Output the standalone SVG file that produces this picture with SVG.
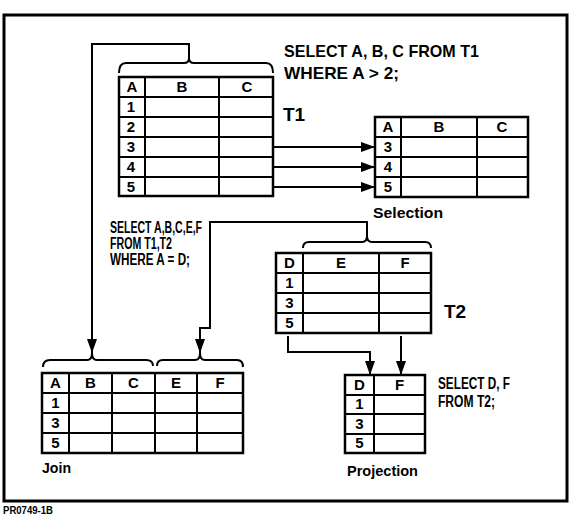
<svg xmlns="http://www.w3.org/2000/svg" width="572" height="524" viewBox="0 0 572 524">
<defs>
<marker id="ah" viewBox="0 0 14 10" refX="14" refY="5" markerWidth="14" markerHeight="10" markerUnits="userSpaceOnUse" orient="auto">
<path d="M0,0 L14,5 L0,10 z" fill="#000"/>
</marker>
</defs>
<style>
text{font-family:"Liberation Sans",Arial,sans-serif;font-weight:bold;fill:#000}
.cell{font-size:15px;text-anchor:middle}
.sql{font-size:16px}
.big{font-size:17px}
.lbl{font-size:15px}
.tb{fill:none;stroke:#000;stroke-width:2.5}
.gl{fill:none;stroke:#000;stroke-width:2}
.br{fill:none;stroke:#000;stroke-width:2}
.cn{fill:none;stroke:#000;stroke-width:2}
.cna{fill:none;stroke:#000;stroke-width:2;marker-end:url(#ah)}
</style>
<rect x="4" y="15" width="563" height="486" fill="none" stroke="#000" stroke-width="3"/>

<g id="connectors">
<path class="cna" d="M189,58 V44 H92 V353"/>
<path class="cna" d="M367,236 V222 H210 V328 H200 V353"/>
<path class="cna" d="M288,336 V352 H370 V375"/>
<path class="cna" d="M401,336 V375"/>
<path class="cna" d="M273,147 H375"/>
<path class="cna" d="M273,167 H375"/>
<path class="cna" d="M273,187 H375"/>
</g>

<g id="t1">
<path class="br" d="M119,73 Q119,63 126,63 L184,63 Q189,63 189,58 Q189,63 194,63 L266,63 Q273,63 273,73"/>
<rect class="tb" x="119" y="77" width="154" height="119"/>
<path class="gl" d="M145,77 V196 M219,77 V196 M119,97 H273 M119,117 H273 M119,137 H273 M119,157 H273 M119,177 H273"/>
<text class="cell" x="132" y="92">A</text>
<text class="cell" x="182" y="92">B</text>
<text class="cell" x="247" y="92">C</text>
<text class="cell" x="131" y="112">1</text>
<text class="cell" x="131" y="132">2</text>
<text class="cell" x="131" y="152">3</text>
<text class="cell" x="131" y="172">4</text>
<text class="cell" x="131" y="192">5</text>
<text x="283" y="121" style="font-size:19px">T1</text>
</g>

<g id="sql1">
<text class="big" x="284" y="57" textLength="195" lengthAdjust="spacingAndGlyphs">SELECT A, B, C FROM T1</text>
<text class="big" x="284" y="79" textLength="115" lengthAdjust="spacingAndGlyphs">WHERE A &gt; 2;</text>
</g>

<g id="selection">
<rect class="tb" x="375" y="117" width="153" height="80"/>
<path class="gl" d="M401,117 V197 M477,117 V197 M375,137 H528 M375,157 H528 M375,177 H528"/>
<text class="cell" x="388" y="132">A</text>
<text class="cell" x="439" y="132">B</text>
<text class="cell" x="502" y="132">C</text>
<text class="cell" x="388" y="152">3</text>
<text class="cell" x="388" y="172">4</text>
<text class="cell" x="388" y="192">5</text>
<text class="lbl" x="373" y="218" textLength="70" lengthAdjust="spacingAndGlyphs">Selection</text>
</g>

<g id="sql2">
<text class="sql" x="110" y="233" textLength="92" lengthAdjust="spacingAndGlyphs">SELECT A,B,C,E,F</text>
<text class="sql" x="110" y="249" textLength="62" lengthAdjust="spacingAndGlyphs">FROM T1,T2</text>
<text class="sql" x="110" y="265" textLength="80" lengthAdjust="spacingAndGlyphs">WHERE A = D;</text>
</g>

<g id="t2">
<path class="br" d="M303,248 Q303,242 309,242 L362,242 Q367,242 367,236 Q367,242 372,242 L425,242 Q431,242 431,248"/>
<rect class="tb" x="276" y="253" width="155" height="80"/>
<path class="gl" d="M303,253 V333 M379,253 V333 M276,273 H431 M276,293 H431 M276,313 H431"/>
<text class="cell" x="289.5" y="268">D</text>
<text class="cell" x="341" y="268">E</text>
<text class="cell" x="405" y="268">F</text>
<text class="cell" x="289.5" y="288">1</text>
<text class="cell" x="289.5" y="308">3</text>
<text class="cell" x="289.5" y="328">5</text>
<text x="444" y="318" style="font-size:19px">T2</text>
</g>

<g id="join">
<path class="br" d="M43,367 Q43,360 50,360 L87,360 Q92,360 92,353 Q92,360 97,360 L146,360 Q153,360 153,366"/>
<path class="br" d="M157,366 Q157,360 163,360 L195,360 Q200,360 200,353 Q200,360 205,360 L237,360 Q243,360 243,367"/>
<rect class="tb" x="42" y="373" width="201" height="80"/>
<path class="gl" d="M69,373 V453 M112,373 V453 M155,373 V453 M197,373 V453 M42,393 H243 M42,413 H243 M42,433 H243"/>
<text class="cell" x="55.5" y="388">A</text>
<text class="cell" x="90.5" y="388">B</text>
<text class="cell" x="133.5" y="388">C</text>
<text class="cell" x="176" y="388">E</text>
<text class="cell" x="220" y="388">F</text>
<text class="cell" x="55.5" y="408">1</text>
<text class="cell" x="55.5" y="428">3</text>
<text class="cell" x="55.5" y="448">5</text>
<text class="lbl" x="42" y="473" textLength="29" lengthAdjust="spacingAndGlyphs">Join</text>
</g>

<g id="projection">
<rect class="tb" x="345" y="375" width="80" height="78"/>
<path class="gl" d="M374,375 V453 M345,395 H425 M345,414 H425 M345,434 H425"/>
<text class="cell" x="359.5" y="390">D</text>
<text class="cell" x="399.5" y="390">F</text>
<text class="cell" x="359.5" y="409">1</text>
<text class="cell" x="359.5" y="429">3</text>
<text class="cell" x="359.5" y="448">5</text>
<text class="lbl" x="347" y="476" textLength="71" lengthAdjust="spacingAndGlyphs">Projection</text>
</g>

<g id="sql3">
<text class="sql" x="438" y="389" textLength="72" lengthAdjust="spacingAndGlyphs">SELECT D, F</text>
<text class="sql" x="438" y="407" textLength="57" lengthAdjust="spacingAndGlyphs">FROM T2;</text>
</g>

<text x="3" y="514" style="font-size:10px" textLength="50" lengthAdjust="spacingAndGlyphs">PR0749-1B</text>
</svg>
